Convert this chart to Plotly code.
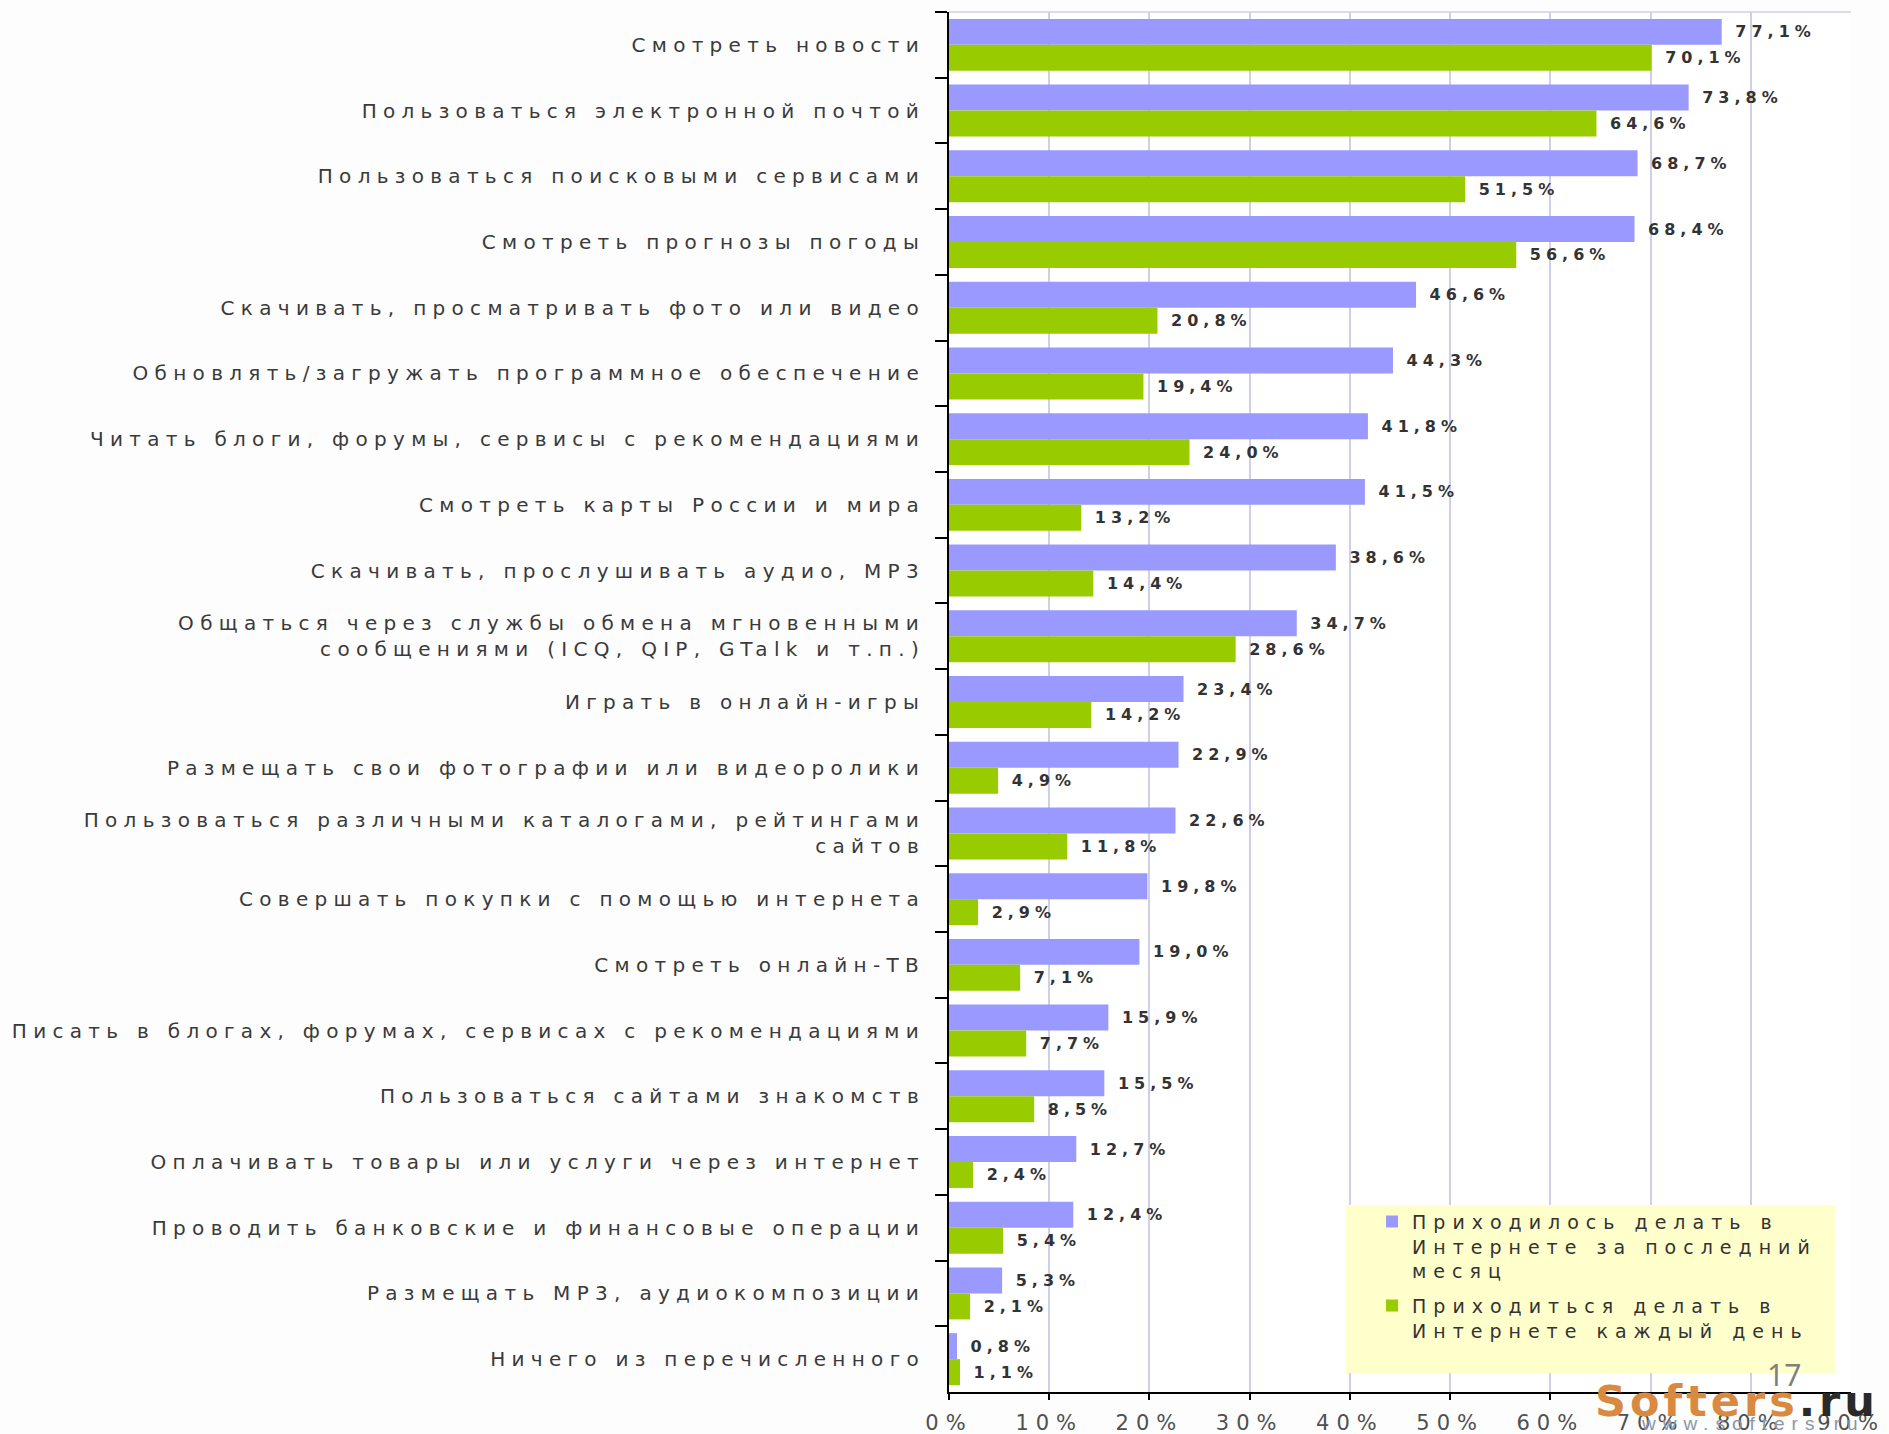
import plotly.graph_objects as go

categories = [
    "Смотреть новости",
    "Пользоваться электронной почтой",
    "Пользоваться поисковыми сервисами",
    "Смотреть прогнозы погоды",
    "Скачивать, просматривать фото или видео",
    "Обновлять/загружать программное обеспечение",
    "Читать блоги, форумы, сервисы с рекомендациями",
    "Смотреть карты России и мира",
    "Скачивать, прослушивать аудио, MP3",
    "Общаться через службы обмена мгновенными<br>сообщениями (ICQ, QIP, GTalk и т.п.)",
    "Играть в онлайн-игры",
    "Размещать свои фотографии или видеоролики",
    "Пользоваться различными каталогами, рейтингами<br>сайтов",
    "Совершать покупки с помощью интернета",
    "Смотреть онлайн-ТВ",
    "Писать в блогах, форумах, сервисах с рекомендациями",
    "Пользоваться сайтами знакомств",
    "Оплачивать товары или услуги через интернет",
    "Проводить банковские и финансовые операции",
    "Размещать MP3, аудиокомпозиции",
    "Ничего из перечисленного",
]

month_values = [77.1, 73.8, 68.7, 68.4, 46.6, 44.3, 41.8, 41.5, 38.6, 34.7, 23.4,
                22.9, 22.6, 19.8, 19.0, 15.9, 15.5, 12.7, 12.4, 5.3, 0.8]
daily_values = [70.1, 64.6, 51.5, 56.6, 20.8, 19.4, 24.0, 13.2, 14.4, 28.6, 14.2,
                4.9, 11.8, 2.9, 7.1, 7.7, 8.5, 2.4, 5.4, 2.1, 1.1]

series_names = [
    "Приходилось делать в<br>Интернете за последний<br>месяц",
    "Приходиться делать в<br>Интернете каждый день",
]

x_tick_values = [0, 10, 20, 30, 40, 50, 60, 70, 80, 90]
x_tick_labels = ["0%", "10%", "20%", "30%", "40%", "50%", "60%", "70%", "80%", "90%"]

page_number = "17"
watermark_main = "Softers"
watermark_tld = ".ru"
watermark_url = "www.softers.ru"

PURPLE = "#9999FF"
GREEN = "#99CC00"
FONT = "DejaVu Sans, Verdana, sans-serif"
FONT2 = "Liberation Sans, Arial, sans-serif"


def spaced(text, px):
    return "<br>".join(
        f'<span style="letter-spacing:{px}px">{part}</span>' for part in text.split("<br>")
    )


def pct(v):
    return f"{v:.1f}".replace(".", ",") + "%"


y_labels = [spaced(c, 6.3) for c in categories]

fig = go.Figure()
for i, (name, vals, color) in enumerate([(series_names[0], month_values, PURPLE),
                                         (series_names[1], daily_values, GREEN)]):
    fig.add_trace(go.Bar(
        y=y_labels,
        x=vals,
        orientation="h",
        name=spaced(name, 7),
        legendgroup=f"g{i}",
        marker=dict(color=color, line=dict(width=0)),
        text=[spaced("\u00a0" + pct(v), 5) for v in vals],
        textposition="outside",
        constraintext="none",
        cliponaxis=False,
        textfont=dict(family=FONT, size=16, color="#333333", weight="bold"),
    ))

fig.update_layout(
    width=1889,
    height=1434,
    margin=dict(l=949, r=38, t=12, b=42, autoexpand=False),
    paper_bgcolor="#FCFDFC",
    plot_bgcolor="#FFFFFF",
    barmode="group",
    bargap=0.21,
    bargroupgap=0.0,
    font=dict(family=FONT, color="#3A3A3A"),
    showlegend=True,
    legend=dict(
        x=0.469, y=0.1372, xanchor="left", yanchor="top",
        bgcolor="rgba(0,0,0,0)",
        font=dict(family=FONT, size=19, color="#333333"),
        valign="top",
        traceorder="grouped",
        tracegroupgap=7,
    ),
    xaxis=dict(
        automargin=False,
        range=[0, 90],
        tickmode="array",
        tickvals=x_tick_values,
        ticktext=[spaced(t, 7) for t in x_tick_labels],
        tickfont=dict(family=FONT, size=21, color="#505050"),
        showgrid=True,
        gridcolor="#CFCFEA",
        gridwidth=1.5,
        zeroline=False,
        showline=True,
        linecolor="#000000",
        linewidth=2,
        ticks="outside",
        ticklen=6,
        tickwidth=2,
        tickcolor="#000000",
        ticklabelstandoff=5,
        fixedrange=True,
    ),
    yaxis=dict(
        automargin=False,
        type="category",
        autorange="reversed",
        tickson="boundaries",
        ticks="outside",
        ticklen=12,
        tickwidth=2,
        tickcolor="#000000",
        showline=True,
        linecolor="#000000",
        linewidth=2,
        showgrid=False,
        zeroline=False,
        tickfont=dict(family=FONT, size=20, color="#3A3A3A"),
        ticklabelstandoff=18,
        fixedrange=True,
    ),
    shapes=[
        dict(type="line", xref="paper", yref="paper", x0=0, x1=1, y0=1, y1=1,
             line=dict(color="#CFCFEA", width=1.5), layer="below"),
        dict(type="rect", xref="paper", yref="paper", x0=0.440, x1=0.982,
             y0=0.0138, y1=0.1355, fillcolor="#FFFFCC", line=dict(width=0),
             layer="above"),
    ],
    annotations=[
        dict(text=page_number, xref="paper", yref="paper", x=0.9257, y=0.013,
             xanchor="center", yanchor="middle", showarrow=False,
             font=dict(family="Noto Sans, sans-serif", size=30, color="#7F7F7F")),
        dict(text=spaced(watermark_url, 7), xref="paper", yref="paper", x=0.891, y=-0.0228,
             xanchor="center", yanchor="middle", showarrow=False,
             font=dict(family=FONT2, size=19, color="#8A96A8")),
        dict(text=(f'<span style="letter-spacing:4px"><b><span style="color:#D98A40">{watermark_main}</span>'
                   f'<span style="color:#2A2A2A">{watermark_tld}</span></b></span>'),
             xref="paper", yref="paper", x=0.874, y=-0.0065,
             xanchor="center", yanchor="middle", showarrow=False,
             font=dict(family=FONT, size=43, color="#D98A40")),
    ],
)

fig.write_html("out.html", config={"displayModeBar": False},
               post_script="document.body.style.margin='0';")
